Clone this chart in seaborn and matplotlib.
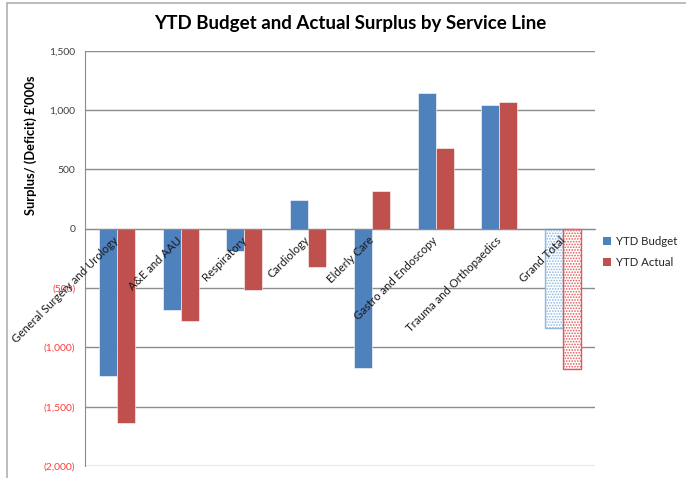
import matplotlib
matplotlib.use("Agg")
import matplotlib.pyplot as plt
import matplotlib.lines as mlines
import matplotlib.patches as mpatches
import seaborn as sns
import pandas as pd

categories = ["General Surgery and Urology", "A&E and AAU", "Respiratory", "Cardiology",
              "Elderly Care", "Gastro and Endoscopy", "Trauma and Orthopaedics", "Grand Total"]
ytd_budget = [-1240, -682, -185, 245, -1170, 1146, 1045, -841]
ytd_actual = [-1640, -775, -514, -320, 320, 682, 1070, -1180]
series = ["YTD Budget", "YTD Actual"]
ytick_values = [-2000, -1500, -1000, -500, 0, 500, 1000, 1500]
ytick_labels = ["(2,000)", "(1,500)", "(1,000)", "(500)", "0", "500", "1,000", "1,500"]

df = pd.DataFrame({
    "Service Line": categories * 2,
    "Series": [series[0]] * len(categories) + [series[1]] * len(categories),
    "Value": ytd_budget + ytd_actual,
})

sns.set_style("white")
plt.rcParams["font.family"] = ["Lato", "DejaVu Sans"]
plt.rcParams["hatch.linewidth"] = 0.8

fig = plt.figure(figsize=(6.86, 4.78), dpi=100)
ax = fig.add_axes([85/686, 1-466/478, (595-85)/686, (466-50.7)/478])

blue = "#4F81BD"
red = "#C0504D"
sns.barplot(data=df, x="Service Line", y="Value", hue="Series", order=categories,
            hue_order=series, palette=[blue, red], width=0.565, gap=0,
            edgecolor="white", linewidth=0.4, saturation=1, ax=ax, legend=False)

# Grand total bars: dotted pattern
n = len(categories)
gb = ax.containers[0].patches[n-1]
ga = ax.containers[1].patches[n-1]
gb.set_facecolor("white"); gb.set_edgecolor("#8DB8E2"); gb.set_hatch("......")
gb.set_linewidth(1.0)
ga.set_facecolor("white"); ga.set_edgecolor("#E05858"); ga.set_hatch("......")
ga.set_linewidth(1.0)

ax.set_ylim(-2000, 1500)
ax.set_xlim(-0.5, n-0.5)
ax.set_yticks(ytick_values)
ax.set_yticklabels(ytick_labels, fontsize=7.5)
for lbl, v in zip(ax.get_yticklabels(), ytick_values):
    lbl.set_color("#FF3B3B" if v < 0 else "#404040")
ax.yaxis.grid(True, color="#8C8C8C", linewidth=1.0)
ax.set_axisbelow(True)
ax.tick_params(axis="y", length=4, width=0.8, color="#8C8C8C", direction="out", pad=3)

for s in ["top", "right"]:
    ax.spines[s].set_visible(False)
ax.spines["left"].set_color("#8C8C8C")
ax.spines["bottom"].set_position(("data", 0))
ax.spines["bottom"].set_color("#8C8C8C")

ax.set_xticks(range(n))
ax.set_xticklabels([""] * n)
ax.tick_params(axis="x", which="major", length=0)
ax.set_xticks([i - 0.5 for i in range(n + 1)], minor=True)
ax.tick_params(axis="x", which="minor", length=4, width=0.8, color="#8C8C8C", direction="out")
ax.set_xlabel("")
ax.set_ylabel("")

# category labels drawn above the bars
for i, c in enumerate(categories):
    ax.annotate(c, xy=(i, 0), xycoords="data", xytext=(0, -7), textcoords="offset points",
                rotation=45, ha="right", va="center", rotation_mode="anchor",
                fontsize=8.2, color="#1a1a1a", zorder=10, annotation_clip=False)

fig.text(31/686, 1-145/478, "Surplus/ (Deficit) £'000s", rotation=90, ha="center", va="center",
         fontsize=9.3, fontweight="bold", color="black")
fig.text(350/686, 1-23/478, "YTD Budget and Actual Surplus by Service Line", ha="center",
         va="center", fontsize=13.5, fontweight="bold", color="black")

handles = [mpatches.Patch(facecolor=blue, edgecolor="none"),
           mpatches.Patch(facecolor=red, edgecolor="none")]
fig.legend(handles, series, loc="upper left", bbox_to_anchor=(603/686, 1-236/478),
           frameon=False, fontsize=8.2, handlelength=0.7, handleheight=0.7,
           handletextpad=0.4, labelspacing=0.9, borderaxespad=0, borderpad=0)

# chart area border (left and top)
fig.add_artist(mlines.Line2D([7/686, 7/686], [0, 1-3/478], color="#B0B0B0", linewidth=1.2))
fig.add_artist(mlines.Line2D([7/686, 1], [1-3/478, 1-3/478], color="#B0B0B0", linewidth=1.2))

fig.savefig("out.png", dpi=100, facecolor="white")
